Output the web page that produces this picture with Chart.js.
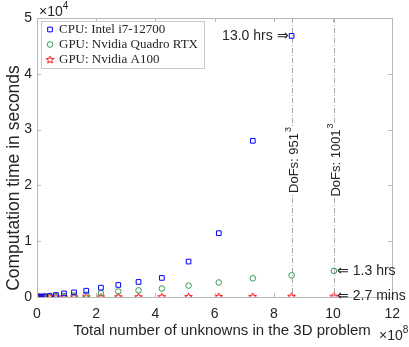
<!DOCTYPE html>
<html>
<head>
<meta charset="utf-8">
<script src="https://cdn.jsdelivr.net/npm/chart.js@4.4.1/dist/chart.umd.min.js"></script>
<style>
html,body{margin:0;padding:0;background:#fff;}
#wrap{width:409px;height:347px;position:relative;}
</style>
</head>
<body>
<div id="wrap"><canvas id="c" width="409" height="347"></canvas></div>
<script>
// ---- data ----
const unknowns = [1.0e6, 3.375e6, 8.0e6, 1.5625e7, 2.7e7, 4.2875e7, 6.4e7, 9.1125e7, 1.25e8, 1.66375e8, 2.16e8, 2.74625e8, 3.43e8, 4.21875e8, 5.12e8, 6.14125e8, 7.29e8, 8.60085e8, 1.003003e9];
const cpuTimes    = [5, 15, 30, 60, 110, 190, 360, 650, 830, 1130, 1670, 2160, 2700, 3420, 6350, 11440, 27990, 46800];
const quadroTimes = [2, 6, 14, 28, 50, 80, 120, 180, 260, 410, 690, 980, 1190, 1520, 2050, 2600, 3350, 3890, 4680];
const a100Times   = [0.5, 1, 2, 3, 5, 8, 11, 15, 20, 27, 35, 45, 56, 68, 83, 100, 118, 140, 162];
const seriesLabels = ['CPU: Intel i7-12700', 'GPU: Nvidia Quadro RTX', 'GPU: Nvidia A100'];
const xTicks = [0, 2e8, 4e8, 6e8, 8e8, 10e8, 12e8];
const yTicks = [0, 1e4, 2e4, 3e4, 4e4, 5e4];
const dofLabels = [{base: '951', x: 8.60085e8}, {base: '1001', x: 1.003003e9}];
const notes = [
  {text: '13.0 hrs \u21D2', series: 0, index: 17, side: 'left'},
  {text: '\u21D0 1.3 hrs', series: 1, index: 18, side: 'right'},
  {text: '\u21D0 2.7 mins', series: 2, index: 18, side: 'right'}
];

const SANS = '"Liberation Sans", Arial, Helvetica, sans-serif';
const SERIF = '"Liberation Serif", "Times New Roman", serif';
const TXT = '#262626';
const AX = '#b8b8b8';

// pentagram marker
function makeStar(color){
  const s = 9, cv = document.createElement('canvas');
  cv.width = s; cv.height = s;
  const g = cv.getContext('2d');
  g.strokeStyle = color; g.lineWidth = 1;
  g.beginPath();
  const cx = s/2, cy = s/2 + 0.4, R = 4, r = 1.7;
  for (let i = 0; i < 10; i++){
    const a = -Math.PI/2 + i*Math.PI/5;
    const rr = i%2 ? r : R;
    const px = cx + rr*Math.cos(a), py = cy + rr*Math.sin(a);
    i ? g.lineTo(px, py) : g.moveTo(px, py);
  }
  g.closePath(); g.stroke();
  return cv;
}
const starImg = makeStar('#ff0000');

const toPts = (xs, ys) => ys.map((v, i) => ({x: xs[i], y: v}));

const datasets = [
  {label: seriesLabels[0], data: toPts(unknowns, cpuTimes), pointStyle: 'rect', pointRadius: 3.3, borderColor: '#0000ff', backgroundColor: 'rgba(0,0,0,0)', borderWidth: 1, showLine: false},
  {label: seriesLabels[1], data: toPts(unknowns, quadroTimes), pointStyle: 'circle', pointRadius: 2.8, borderColor: '#2f9a4a', backgroundColor: 'rgba(0,0,0,0)', borderWidth: 1, showLine: false},
  {label: seriesLabels[2], data: toPts(unknowns, a100Times), pointStyle: starImg, pointRadius: 4, borderColor: '#ff0000', backgroundColor: 'rgba(0,0,0,0)', borderWidth: 1, showLine: false}
];

const deco = {
  id: 'deco',
  beforeDatasetsDraw(chart){
    const {ctx, chartArea: ca, scales: {x, y}} = chart;
    ctx.save();
    dofLabels.forEach(d => {
      const px = Math.round(x.getPixelForValue(d.x)) + 0.5;
      ctx.strokeStyle = '#a8a8a8'; ctx.lineWidth = 1;
      ctx.setLineDash([5, 2, 1, 2]);
      ctx.beginPath(); ctx.moveTo(px, ca.top); ctx.lineTo(px, ca.bottom); ctx.stroke();
    });
    ctx.setLineDash([]);
    dofLabels.forEach(d => {
      const px = x.getPixelForValue(d.x);
      ctx.save();
      ctx.translate(px + 3, 160);
      ctx.rotate(-Math.PI/2);
      ctx.font = '13px ' + SANS;
      const main = 'DoFs: ' + d.base;
      const wm = ctx.measureText(main).width;
      ctx.font = '9px ' + SANS;
      const ws = ctx.measureText('3').width;
      const tw = wm + ws + 1;
      ctx.fillStyle = '#fff';
      ctx.fillRect(-tw/2 - 1, -9, tw + 2, 16);
      ctx.fillStyle = TXT;
      ctx.textBaseline = 'middle'; ctx.textAlign = 'left';
      ctx.font = '13px ' + SANS;
      ctx.fillText(main, -tw/2, 0);
      ctx.font = '9px ' + SANS;
      ctx.fillText('3', -tw/2 + wm + 1, -6);
      ctx.restore();
    });
    ctx.restore();
  },
  afterDraw(chart){
    const {ctx, chartArea: ca, scales: {x, y}} = chart;
    ctx.save();
    ctx.strokeStyle = AX; ctx.lineWidth = 1;
    ctx.strokeRect(Math.round(ca.left) + 0.5, Math.round(ca.top) + 0.5, Math.round(ca.right - ca.left), Math.round(ca.bottom - ca.top));
    ctx.beginPath();
    xTicks.forEach(v => {
      const p = Math.round(x.getPixelForValue(v)) + 0.5;
      ctx.moveTo(p, ca.bottom); ctx.lineTo(p, ca.bottom - 4);
      ctx.moveTo(p, ca.top); ctx.lineTo(p, ca.top + 4);
    });
    yTicks.forEach(v => {
      const p = Math.round(y.getPixelForValue(v)) + 0.5;
      ctx.moveTo(ca.left, p); ctx.lineTo(ca.left + 4, p);
      ctx.moveTo(ca.right, p); ctx.lineTo(ca.right - 4, p);
    });
    ctx.stroke();

    ctx.fillStyle = TXT;
    ctx.textBaseline = 'alphabetic'; ctx.textAlign = 'left';
    ctx.font = '14px ' + SANS;
    ctx.fillText('\u00D710', ca.left + 2, 16);
    let w = ctx.measureText('\u00D710').width;
    ctx.font = '10px ' + SANS;
    ctx.fillText('4', ca.left + 2 + w, 9);
    ctx.font = '14px ' + SANS;
    ctx.fillText('\u00D710', 379, 340);
    w = ctx.measureText('\u00D710').width;
    ctx.font = '10px ' + SANS;
    ctx.fillText('8', 379 + w, 333);

    ctx.font = '15px ' + SANS;
    ctx.textAlign = 'center'; ctx.textBaseline = 'middle';
    ctx.fillText('Total number of unknowns in the 3D problem', 222, 331);
    ctx.save();
    ctx.translate(14, 178);
    ctx.rotate(-Math.PI/2);
    ctx.font = '17.5px ' + SANS;
    ctx.fillText('Computation time in seconds', 0, 0);
    ctx.restore();

    ctx.font = '14px ' + SANS;
    ctx.textBaseline = 'middle';
    notes.forEach(n => {
      const pt = chart.getDatasetMeta(n.series).data[n.index];
      if (n.side === 'left') { ctx.textAlign = 'right'; ctx.fillText(n.text, pt.x - 3, pt.y); }
      else { ctx.textAlign = 'left'; ctx.fillText(n.text, pt.x + 3, pt.y); }
    });

    const lx = 41.5, ly = 21.5, lw = 163, lh = 47;
    ctx.fillStyle = '#fff';
    ctx.fillRect(lx, ly, lw, lh);
    ctx.strokeStyle = '#c8c8c8'; ctx.lineWidth = 1;
    ctx.strokeRect(lx, ly, lw, lh);
    ctx.font = '13px ' + SERIF;
    ctx.textAlign = 'left'; ctx.textBaseline = 'middle';
    chart.data.datasets.forEach((ds, i) => {
      const yy = 29.5 + i * 15;
      ctx.strokeStyle = ds.borderColor; ctx.fillStyle = 'rgba(0,0,0,0)'; ctx.lineWidth = 1;
      Chart.helpers.drawPoint(ctx, {pointStyle: ds.pointStyle, radius: ds.pointRadius, rotation: 0, borderWidth: 1}, 50, yy);
      ctx.fillStyle = TXT;
      ctx.fillText(ds.label, 59, yy + 0.5);
    });
    ctx.restore();
  }
};

Chart.defaults.font.family = SANS;
new Chart(document.getElementById('c'), {
  type: 'scatter',
  data: {datasets},
  options: {
    responsive: false,
    animation: false,
    layout: {padding: {left: 0, top: 18, right: 12, bottom: 0}},
    plugins: {legend: {display: false}, tooltip: {enabled: false}},
    scales: {
      x: {
        type: 'linear', min: 0, max: 12e8,
        afterBuildTicks: s => { s.ticks = xTicks.map(v => ({value: v})); },
        afterFit: s => { s.height = 50; },
        grid: {display: false, drawTicks: false},
        border: {display: false},
        ticks: {padding: 9, color: TXT, font: {size: 14}, callback: v => String(v / 1e8), maxRotation: 0}
      },
      y: {
        type: 'linear', min: 0, max: 5e4,
        afterBuildTicks: s => { s.ticks = yTicks.map(v => ({value: v})); },
        afterFit: s => { s.width = 37; },
        grid: {display: false, drawTicks: false},
        border: {display: false},
        ticks: {padding: 5, color: TXT, font: {size: 14}, callback: v => String(v / 1e4)}
      }
    }
  },
  plugins: [deco]
});
</script>
</body>
</html>
